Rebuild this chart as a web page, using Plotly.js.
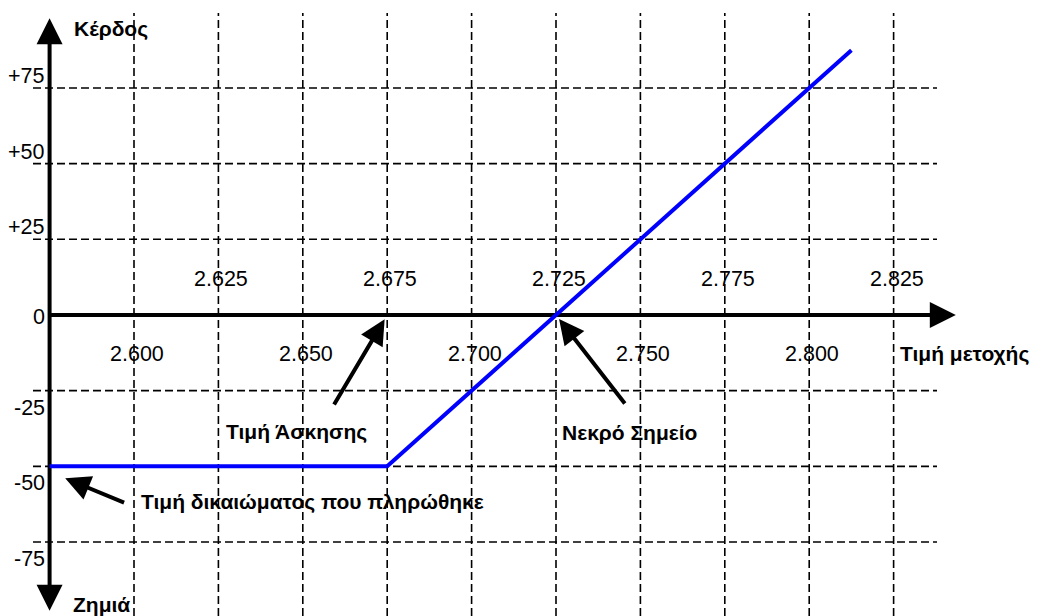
<!DOCTYPE html>
<html>
<head>
<meta charset="utf-8">
<script src="https://cdn.plot.ly/plotly-3.0.1.min.js"></script>
<style>
  html, body { margin: 0; padding: 0; background: #ffffff; }
  #chart { width: 1038px; height: 616px; }
</style>
</head>
<body>
<div id="chart"></div>
<script>
// Long call payoff: profit / loss against the share price at expiry
const priceTicks = [2.600, 2.625, 2.650, 2.675, 2.700, 2.725, 2.750, 2.775, 2.800, 2.825];
const priceLabels = ['2.600', '2.625', '2.650', '2.675', '2.700', '2.725', '2.750', '2.775', '2.800', '2.825'];
const profitTicks = [75, 50, 25, 0, -25, -50, -75];
const profitLabels = ['+75', '+50', '+25', '0', '-25', '-50', '-75'];

const payoffPrice = [2.575, 2.675, 2.8125];
const payoffProfit = [-50, -50, 87.5];

const strikePrice = 2.675;
const breakEvenPrice = 2.725;
const premiumPaid = -50;

const axisTitles = { profit: 'Κέρδος', loss: 'Ζημιά', price: 'Τιμή μετοχής' };
const calloutTexts = {
  strike: 'Τιμή Άσκησης',
  breakEven: 'Νεκρό Σημείο',
  premium: 'Τιμή δικαιώματος που πληρώθηκε'
};

// ---- page geometry ----
const W = 1038, H = 616;
const xRange = [2.56031, 2.86777];
const yRange = [-99.45, 104.07];
const px2x = p => xRange[0] + p / W * (xRange[1] - xRange[0]);
const py2y = p => yRange[1] - p / H * (yRange[1] - yRange[0]);
const originX = payoffPrice[0];

const tickFont = { family: 'Liberation Sans, Arial, sans-serif', size: 21.5, color: '#000' };
const boldFont = { family: 'Liberation Sans, Arial, sans-serif', size: 21, color: '#000', weight: 'bold' };

const shapes = [];
const gridLine = { color: '#000', width: 1.6, dash: '8px,4px' };

// vertical grid
priceTicks.forEach(v => {
  shapes.push({ type: 'line', layer: 'below', xref: 'x', yref: 'y',
    x0: v, x1: v, y0: py2y(H), y1: py2y(13), line: gridLine });
});
// horizontal grid
profitTicks.filter(v => v !== 0).forEach(v => {
  shapes.push({ type: 'line', layer: 'below', xref: 'x', yref: 'y',
    x0: px2x(33), x1: px2x(937), y0: v, y1: v, line: gridLine });
});
// axes
shapes.push({ type: 'line', layer: 'below', xref: 'x', yref: 'y',
  x0: originX, x1: originX, y0: py2y(600), y1: py2y(30), line: { color: '#000', width: 4 } });
shapes.push({ type: 'line', layer: 'below', xref: 'x', yref: 'y',
  x0: originX, x1: px2x(945), y0: 0, y1: 0, line: { color: '#000', width: 4 } });

const annotations = [];

// arrow heads on the axes
const headStyle = { text: '', showarrow: true, arrowhead: 2, arrowwidth: 4, arrowsize: 1.3,
  standoff: 5.2, arrowcolor: '#000', xref: 'x', yref: 'y' };
annotations.push(Object.assign({}, headStyle, { x: originX, y: py2y(13), ax: 0, ay: 30 }));
annotations.push(Object.assign({}, headStyle, { x: originX, y: py2y(616), ax: 0, ay: -30 }));
annotations.push(Object.assign({}, headStyle, { x: px2x(961), y: 0, ax: -30, ay: 0 }));

// price tick labels, alternating above and below the axis
priceTicks.forEach((v, i) => {
  annotations.push({ x: v, y: 0, xref: 'x', yref: 'y', text: priceLabels[i], showarrow: false,
    xanchor: 'center', yanchor: 'middle', xshift: 3, yshift: i % 2 === 0 ? -39 : 36, font: tickFont });
});

// profit tick labels
profitTicks.forEach((v, i) => {
  annotations.push({ x: px2x(47), y: v, xref: 'x', yref: 'y', text: profitLabels[i], showarrow: false,
    xanchor: 'right', yanchor: 'middle', yshift: v > 0 ? 12 : (v === 0 ? -2 : -17), font: tickFont });
});

// axis titles
const paperText = (txt, px, py) => ({ x: px / W, y: 1 - py / H, xref: 'paper', yref: 'paper', text: txt,
  showarrow: false, xanchor: 'left', yanchor: 'middle', font: boldFont });
annotations.push(paperText(axisTitles.profit, 72, 29));
annotations.push(paperText(axisTitles.loss, 71, 604));
annotations.push(paperText(axisTitles.price, 898, 354));

// callouts
annotations.push(paperText(calloutTexts.strike, 224, 432));
annotations.push(paperText(calloutTexts.breakEven, 560, 432));
annotations.push(paperText(calloutTexts.premium, 139, 502));

const callout = { text: '', showarrow: true, arrowhead: 2, arrowwidth: 4, arrowsize: 1.25,
  standoff: 5, arrowcolor: '#000', xref: 'x', yref: 'y' };
annotations.push(Object.assign({}, callout, { x: strikePrice, y: 0, ax: -54, ay: 91 }));
annotations.push(Object.assign({}, callout, { x: breakEvenPrice, y: 0, ax: 70, ay: 90 }));
annotations.push(Object.assign({}, callout, { x: payoffPrice[0], y: premiumPaid,
  xshift: 11, yshift: -10, ax: 65, ay: 27 }));

const payoff = {
  type: 'scatter', mode: 'lines', x: payoffPrice, y: payoffProfit,
  line: { color: '#0000ff', width: 4 }, hoverinfo: 'skip', cliponaxis: false
};

const layout = {
  width: W, height: H,
  margin: { l: 0, r: 0, t: 0, b: 0, pad: 0 },
  paper_bgcolor: '#ffffff', plot_bgcolor: '#ffffff',
  showlegend: false,
  xaxis: { range: xRange, visible: false, fixedrange: true },
  yaxis: { range: yRange, visible: false, fixedrange: true },
  shapes: shapes,
  annotations: annotations
};

Plotly.newPlot('chart', [payoff], layout, { displayModeBar: false, staticPlot: true });
</script>
</body>
</html>
